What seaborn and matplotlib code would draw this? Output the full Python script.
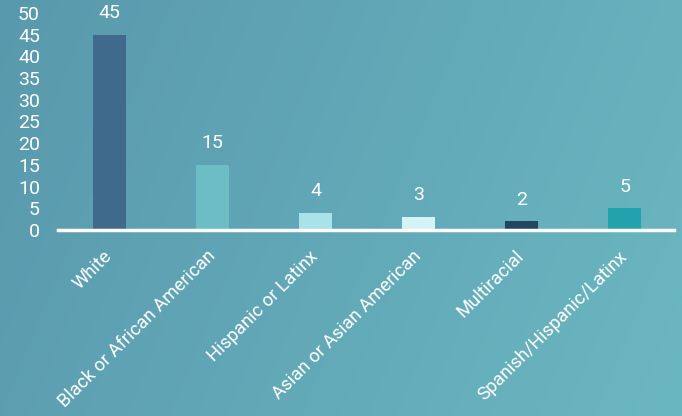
import numpy as np
import pandas as pd
import matplotlib
matplotlib.use("Agg")
import matplotlib.pyplot as plt
import seaborn as sns

categories = ["White", "Black or African American", "Hispanic or Latinx",
              "Asian or Asian American", "Multiracial", "Spanish/Hispanic/Latinx"]
values = [45, 15, 4, 3, 2, 5]
bar_colors = ["#3f6a8c", "#6cbdc4", "#a9e3ea", "#d3f3f5", "#224560", "#23a2ae"]
y_ticks = [0, 5, 10, 15, 20, 25, 30, 35, 40, 45, 50]

sns.set_theme(style="white")
plt.rcParams["font.family"] = ["Roboto", "DejaVu Sans"]

df = pd.DataFrame({"cat": categories, "val": values})

fig = plt.figure(figsize=(6.82, 4.16), dpi=100)

# background gradient
bg = fig.add_axes([0, 0, 1, 1], zorder=-1)
c1 = np.array([0x59, 0x99, 0xad]) / 255
c2 = np.array([0x6b, 0xb7, 0xc1]) / 255
xx = np.linspace(0, 1, 256)
yy = np.linspace(0, 1, 64)
X, Y = np.meshgrid(xx, yy)
t = np.clip(0.8 * X + 0.2 * Y, 0, 1)[..., None]
grad = c1 * (1 - t) + c2 * t
bg.imshow(grad, aspect="auto", extent=[0, 1, 0, 1], origin="upper")
bg.axis("off")

ax = fig.add_axes([58 / 682, 186 / 416, 616 / 682, 217 / 416])
ax.patch.set_alpha(0)
sns.barplot(data=df, x="cat", y="val", hue="cat", palette=bar_colors,
            width=0.32, legend=False, ax=ax, saturation=1, linewidth=0)

ax.set_ylim(0, 50)
ax.set_xlim(-0.5, 5.48)
ax.set_yticks(y_ticks)
ax.set_xlabel("")
ax.set_ylabel("")
for s in ["top", "right", "left"]:
    ax.spines[s].set_visible(False)
ax.spines["bottom"].set_color("white")
ax.spines["bottom"].set_linewidth(2.5)
ax.tick_params(axis="y", length=0, pad=13, labelsize=14, labelcolor="white")
ax.tick_params(axis="x", length=0, pad=17, labelsize=13.3, labelcolor="white")
plt.setp(ax.get_xticklabels(), rotation=45, ha="right", va="center",
         rotation_mode="anchor")

for cont in ax.containers:
    ax.bar_label(cont, padding=9, color="white", fontsize=14)

fig.savefig("out.png", dpi=100)
